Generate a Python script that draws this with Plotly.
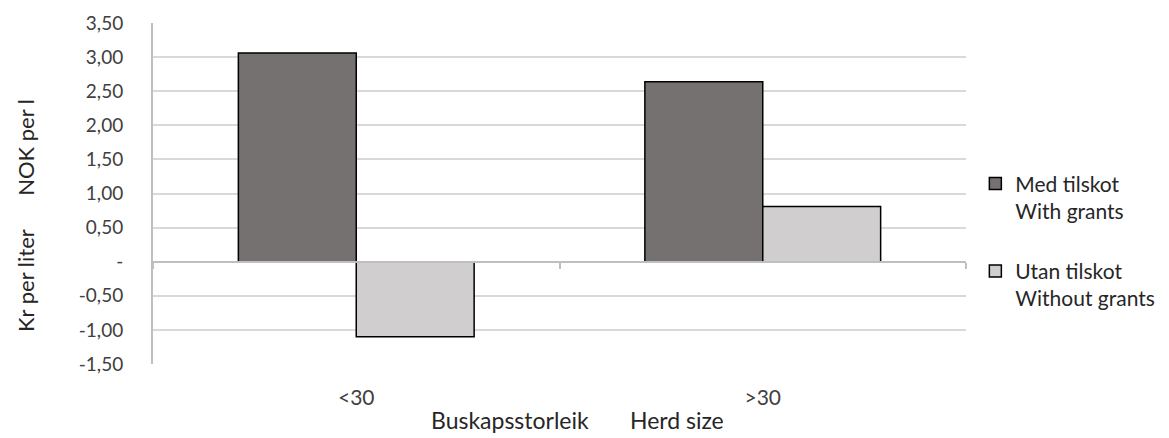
import plotly.graph_objects as go

categories = ["<30", ">30"]
with_grants = [3.06, 2.64]
without_grants = [-1.10, 0.81]
series_names = ["Med tilskot<br>With grants", "Utan tilskot<br>Without grants"]
y_ticks = [-1.5, -1.0, -0.5, 0.0, 0.5, 1.0, 1.5, 2.0, 2.5, 3.0, 3.5]
y_labels = ["-1,50", "-1,00", "-0,50", "-", "0,50", "1,00", "1,50", "2,00", "2,50", "3,00", "3,50"]

FONT = "Lato"
GRID = "#d9d9d9"
AXIS = "#bfbfbf"
TEXT = "#404040"

x_pos = list(range(len(categories)))

fig = go.Figure()
fig.add_trace(go.Bar(
    x=x_pos, y=with_grants, name=series_names[0], legendgroup="a",
    marker=dict(color="#767171", line=dict(color="black", width=1.5)),
))
fig.add_trace(go.Bar(
    x=x_pos, y=without_grants, name=series_names[1], legendgroup="b",
    marker=dict(color="#d0cece", line=dict(color="black", width=1.5)),
))
# invisible trace so the zero-line axis with its category ticks is drawn
fig.add_trace(go.Scatter(x=[x_pos[0]], y=[0], xaxis="x2", mode="markers",
                         marker=dict(opacity=0), showlegend=False, hoverinfo="skip"))

fig.update_layout(
    width=1169, height=438,
    margin=dict(l=153, r=203, t=23, b=74, autoexpand=False),
    paper_bgcolor="white", plot_bgcolor="white",
    font=dict(family=FONT, size=19, color=TEXT),
    barmode="group", bargap=0.42, bargroupgap=0,
    showlegend=True,
    legend=dict(x=1.0115, xanchor="left", y=0.36, yanchor="middle",
                font=dict(size=21, color="#262626"), tracegroupgap=30,
                valign="top", itemwidth=30, bgcolor="rgba(0,0,0,0)"),
    xaxis=dict(range=[-0.5, 1.5], tickvals=x_pos, ticktext=categories,
               showgrid=False, zeroline=False, showline=False, ticks="",
               ticklabelstandoff=19, tickfont=dict(size=21, color=TEXT)),
    xaxis2=dict(overlaying="x", anchor="free", position=1.5 / 5.0,
                range=[-0.5, 1.5], tickvals=[-0.5, 0.5, 1.5], showticklabels=False,
                ticks="outside", ticklen=6, tickwidth=2, tickcolor=AXIS,
                showline=True, linecolor=AXIS, linewidth=2, showgrid=False, zeroline=False),
    yaxis=dict(range=[-1.5, 3.5], tickvals=y_ticks, ticktext=y_labels,
               showgrid=True, gridcolor=GRID, gridwidth=2, zeroline=False,
               showline=True, linecolor=AXIS, linewidth=2, ticks="",
               ticklabelstandoff=24, tickfont=dict(size=19, color=TEXT)),
    annotations=[
        dict(text="Kr per liter\u00a0\u00a0\u00a0\u00a0\u00a0\u00a0NOK per l", textangle=-90,
             xref="paper", yref="paper", x=0, y=0.434, xshift=-128,
             xanchor="center", yanchor="middle", showarrow=False,
             font=dict(size=22, color="#262626")),
        dict(text="Buskapsstorleik\u00a0\u00a0\u00a0\u00a0\u00a0\u00a0\u00a0Herd size",
             xref="paper", yref="paper", x=0.522, y=0, yshift=-56,
             xanchor="center", yanchor="middle", showarrow=False,
             font=dict(size=23, color="#262626")),
    ],
)

fig.write_html("out.html", config={"displayModeBar": False},
               post_script="document.body.style.margin='0';")
